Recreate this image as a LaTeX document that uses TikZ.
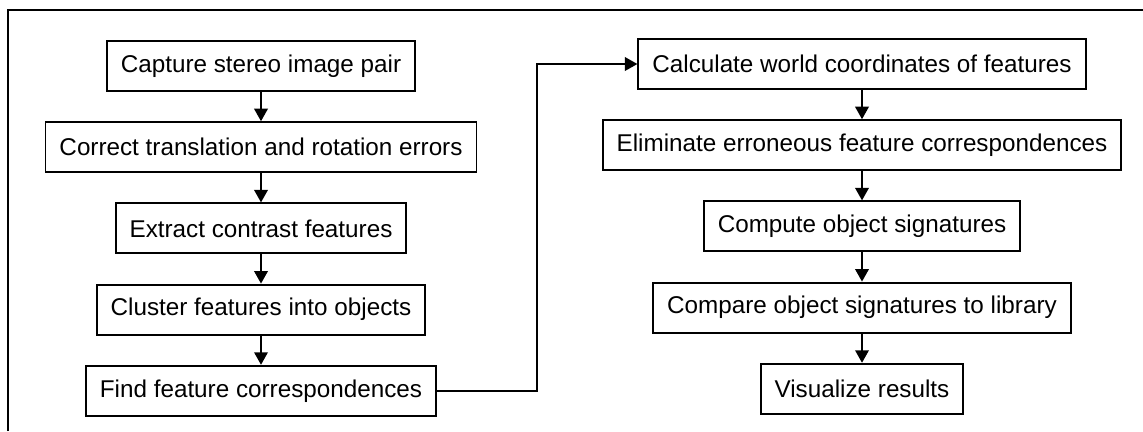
\documentclass[tikz,border=0pt]{standalone}
\usepackage{fontspec}
\setmainfont{Liberation Sans}
\usetikzlibrary{arrows.meta,positioning,calc}

\begin{document}
\begin{tikzpicture}[node distance=5.85mm,
  stage/.style={draw, line width=1.1pt, minimum height=10mm, inner xsep=2.8mm,
    font=\fontsize{13.8}{16}\selectfont, align=center},
  flow/.style={-{Triangle[length=2.5mm,width=2.7mm]}, line width=1.1pt}]
  \useasboundingbox (0,0) rectangle (22.86,-8.62);
  % outer frame, only top and left edges on the page
  \draw[line width=1.1pt] (0.16,-8.62) |- (22.86,-0.2);

  \node[stage] (s1) at (5.22,-1.32) {Capture stereo image pair};
  \node[stage, below=of s1] (s2) {Correct translation and rotation errors};
  \node[stage, below=of s2] (s3) {Extract contrast features};
  \node[stage, below=of s3] (s4) {Cluster features into objects};
  \node[stage, below=of s4] (s5) {Find feature correspondences};

  \node[stage] (t1) at (17.24,-1.28) {Calculate world coordinates of features};
  \node[stage, below=of t1] (t2) {Eliminate erroneous feature correspondences};
  \node[stage, below=of t2] (t3) {Compute object signatures};
  \node[stage, below=of t3] (t4) {Compare object signatures to library};
  \node[stage, below=of t4] (t5) {Visualize results};

  \draw[flow] (s1) -- (s2);
  \draw[flow] (s2) -- (s3);
  \draw[flow] (s3) -- (s4);
  \draw[flow] (s4) -- (s5);

  \coordinate (turn) at ($(s5.east)!.5!(t1.west)$);
  \draw[flow] (s5.east) -| (turn) |- (t1.west);

  \draw[flow] (t1) -- (t2);
  \draw[flow] (t2) -- (t3);
  \draw[flow] (t3) -- (t4);
  \draw[flow] (t4) -- (t5);
\end{tikzpicture}
\end{document}
